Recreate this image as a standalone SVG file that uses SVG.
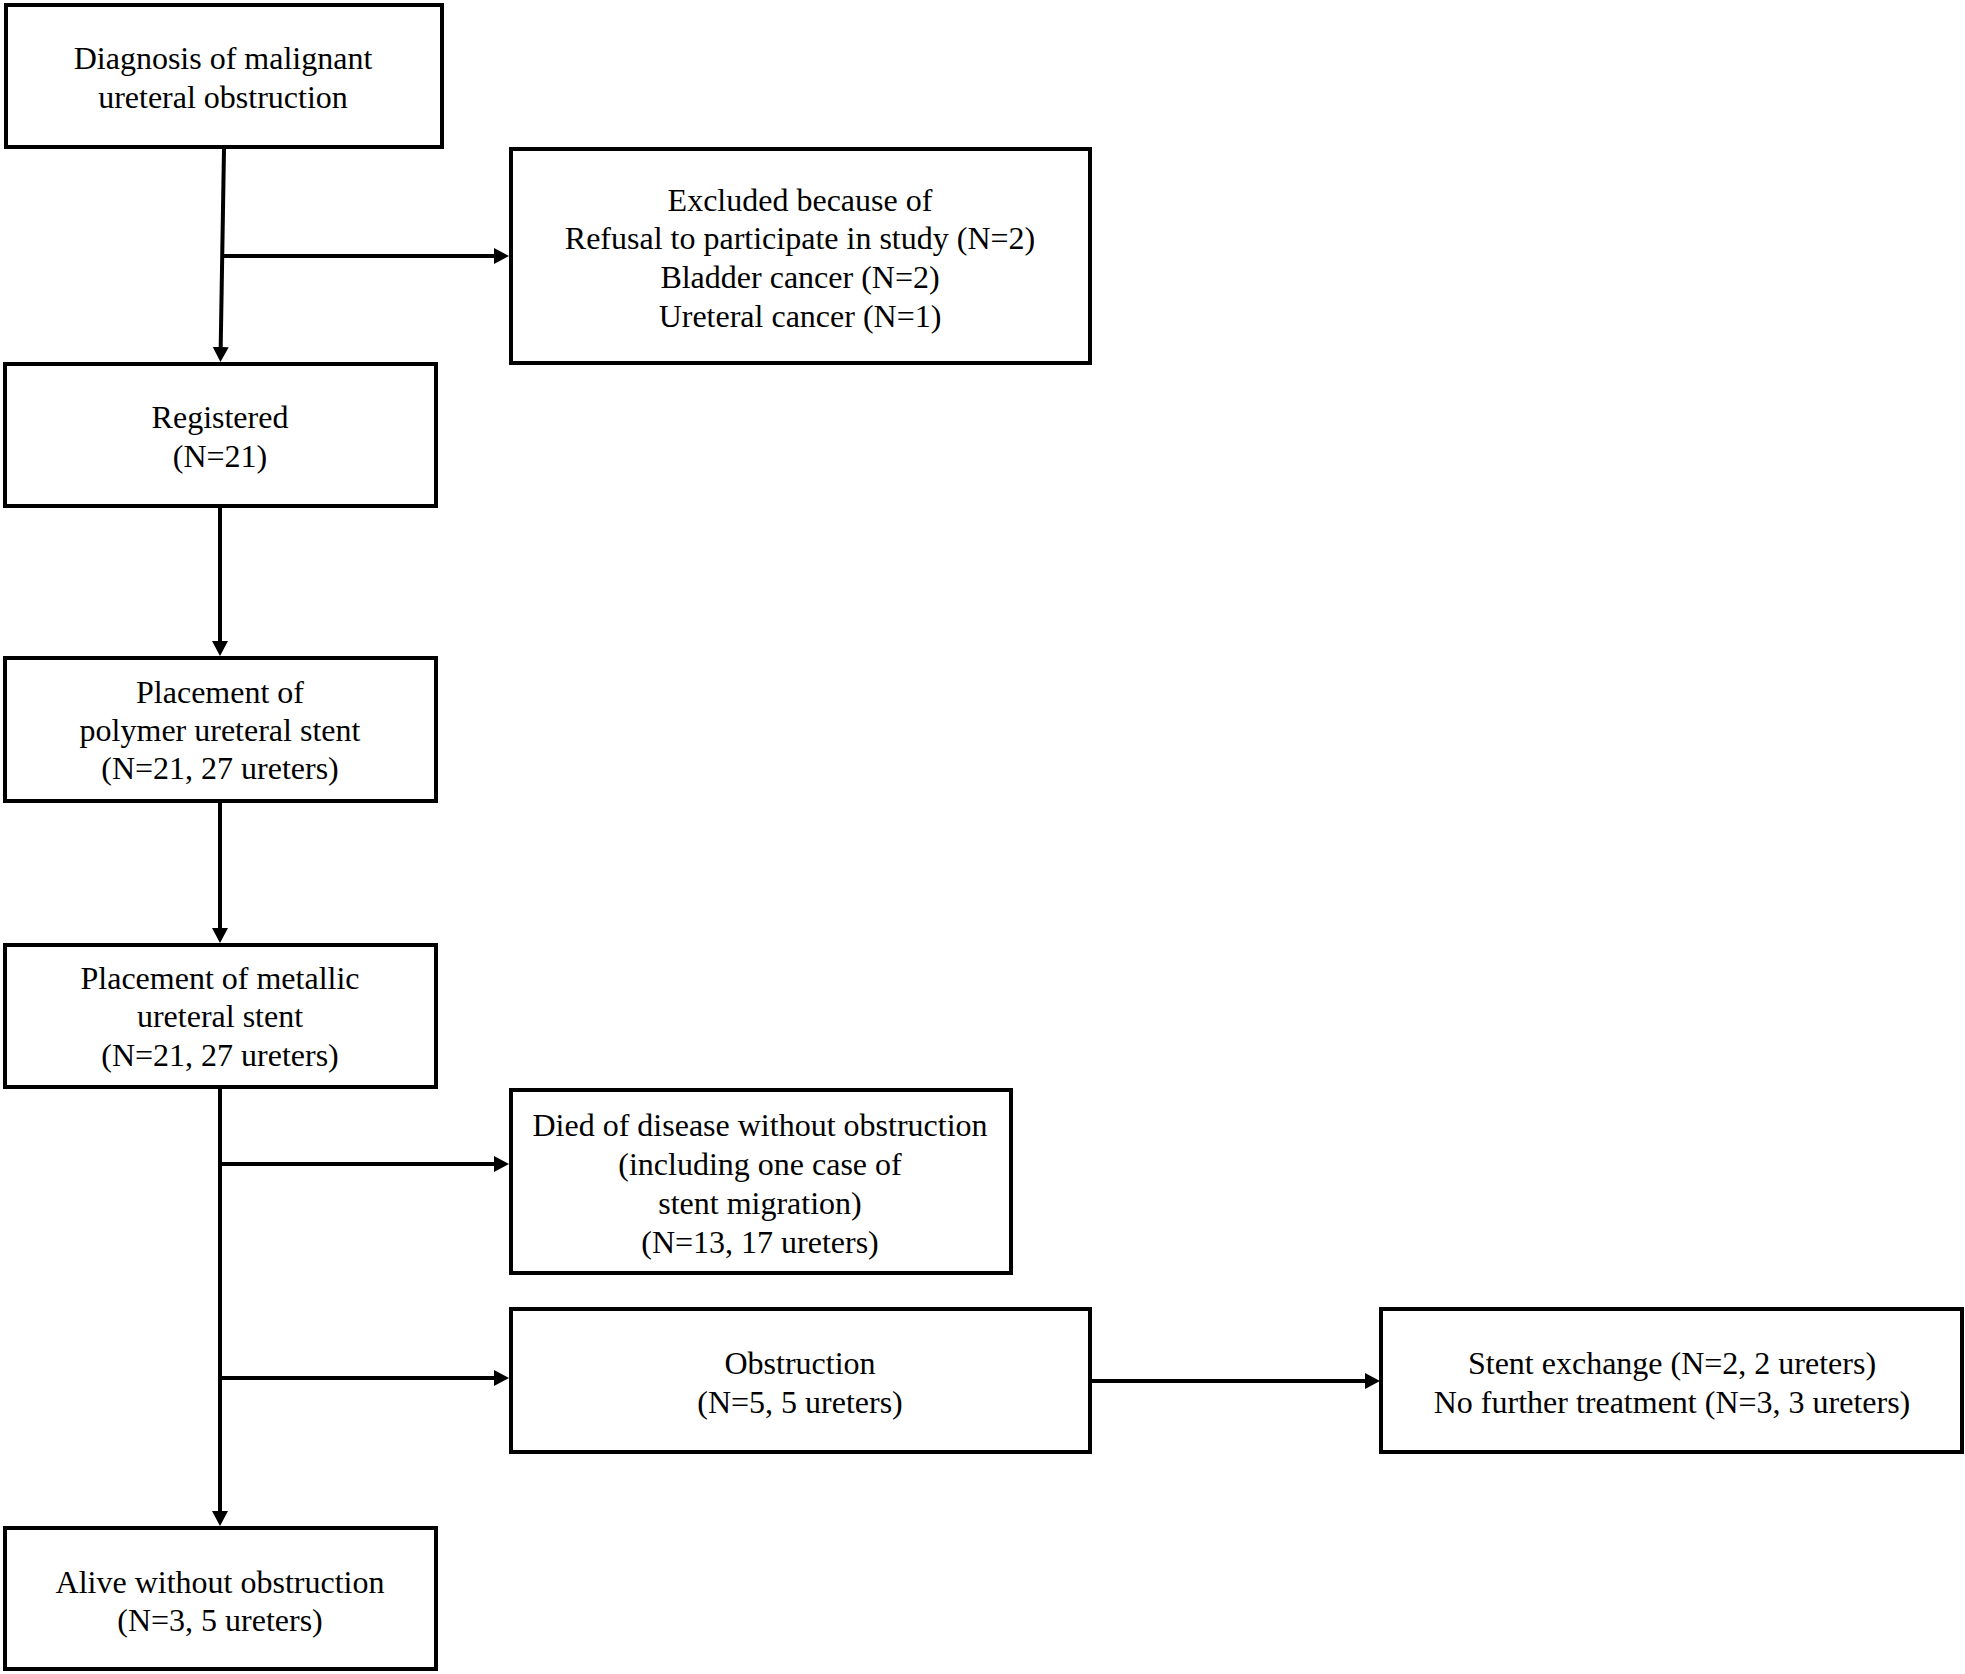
<svg xmlns="http://www.w3.org/2000/svg" width="1965" height="1674" viewBox="0 0 1965 1674">
<style>
.box{fill:#fff;stroke:#000;stroke-width:4}
.t{font-family:"Liberation Serif","Times New Roman",serif;font-size:32px;fill:#000;text-anchor:middle}
.c{stroke:#000;stroke-width:4;fill:none;marker-end:url(#ah)}
</style>
<defs>
<marker id="ah" markerUnits="userSpaceOnUse" markerWidth="16" markerHeight="17" refX="0" refY="8" orient="auto">
<path d="M0,0 L15,8 L0,16 z" fill="#000"/>
</marker>
</defs>
<rect width="1965" height="1674" fill="#fff"/>
<g id="connectors">
<line class="c" x1="224" y1="149" x2="220.7" y2="347"/>
<line class="c" x1="223" y1="256" x2="494" y2="256"/>
<line class="c" x1="220" y1="508" x2="220" y2="641"/>
<line class="c" x1="220" y1="803" x2="220" y2="928"/>
<line class="c" x1="220" y1="1089" x2="220" y2="1511"/>
<line class="c" x1="220" y1="1164" x2="494" y2="1164"/>
<line class="c" x1="220" y1="1378" x2="494" y2="1378"/>
<line class="c" x1="1092" y1="1381" x2="1365" y2="1381"/>
</g>
<g id="n1">
<rect class="box" x="6" y="5" width="436" height="142"/>
<text class="t" x="223" y="69">Diagnosis of malignant</text>
<text class="t" x="223" y="108">ureteral obstruction</text>
</g>
<g id="n2">
<rect class="box" x="511" y="149" width="579" height="214"/>
<text class="t" x="800" y="211">Excluded because of</text>
<text class="t" x="800" y="249">Refusal to participate in study (N=2)</text>
<text class="t" x="800" y="288">Bladder cancer (N=2)</text>
<text class="t" x="800" y="327">Ureteral cancer (N=1)</text>
</g>
<g id="n3">
<rect class="box" x="5" y="364" width="431" height="142"/>
<text class="t" x="220" y="428">Registered</text>
<text class="t" x="220" y="467">(N=21)</text>
</g>
<g id="n4">
<rect class="box" x="5" y="658" width="431" height="143"/>
<text class="t" x="220" y="703">Placement of</text>
<text class="t" x="220" y="741">polymer ureteral stent</text>
<text class="t" x="220" y="779">(N=21, 27 ureters)</text>
</g>
<g id="n5">
<rect class="box" x="5" y="945" width="431" height="142"/>
<text class="t" x="220" y="989">Placement of metallic</text>
<text class="t" x="220" y="1027">ureteral stent</text>
<text class="t" x="220" y="1066">(N=21, 27 ureters)</text>
</g>
<g id="n6">
<rect class="box" x="511" y="1090" width="500" height="183"/>
<text class="t" x="760" y="1136">Died of disease without obstruction</text>
<text class="t" x="760" y="1175">(including one case of</text>
<text class="t" x="760" y="1214">stent migration)</text>
<text class="t" x="760" y="1253">(N=13, 17 ureters)</text>
</g>
<g id="n7">
<rect class="box" x="511" y="1309" width="579" height="143"/>
<text class="t" x="800" y="1374">Obstruction</text>
<text class="t" x="800" y="1413">(N=5, 5 ureters)</text>
</g>
<g id="n8">
<rect class="box" x="1381" y="1309" width="581" height="143"/>
<text class="t" x="1672" y="1374">Stent exchange (N=2, 2 ureters)</text>
<text class="t" x="1672" y="1413">No further treatment (N=3, 3 ureters)</text>
</g>
<g id="n9">
<rect class="box" x="5" y="1528" width="431" height="141"/>
<text class="t" x="220" y="1593">Alive without obstruction</text>
<text class="t" x="220" y="1631">(N=3, 5 ureters)</text>
</g>
</svg>
